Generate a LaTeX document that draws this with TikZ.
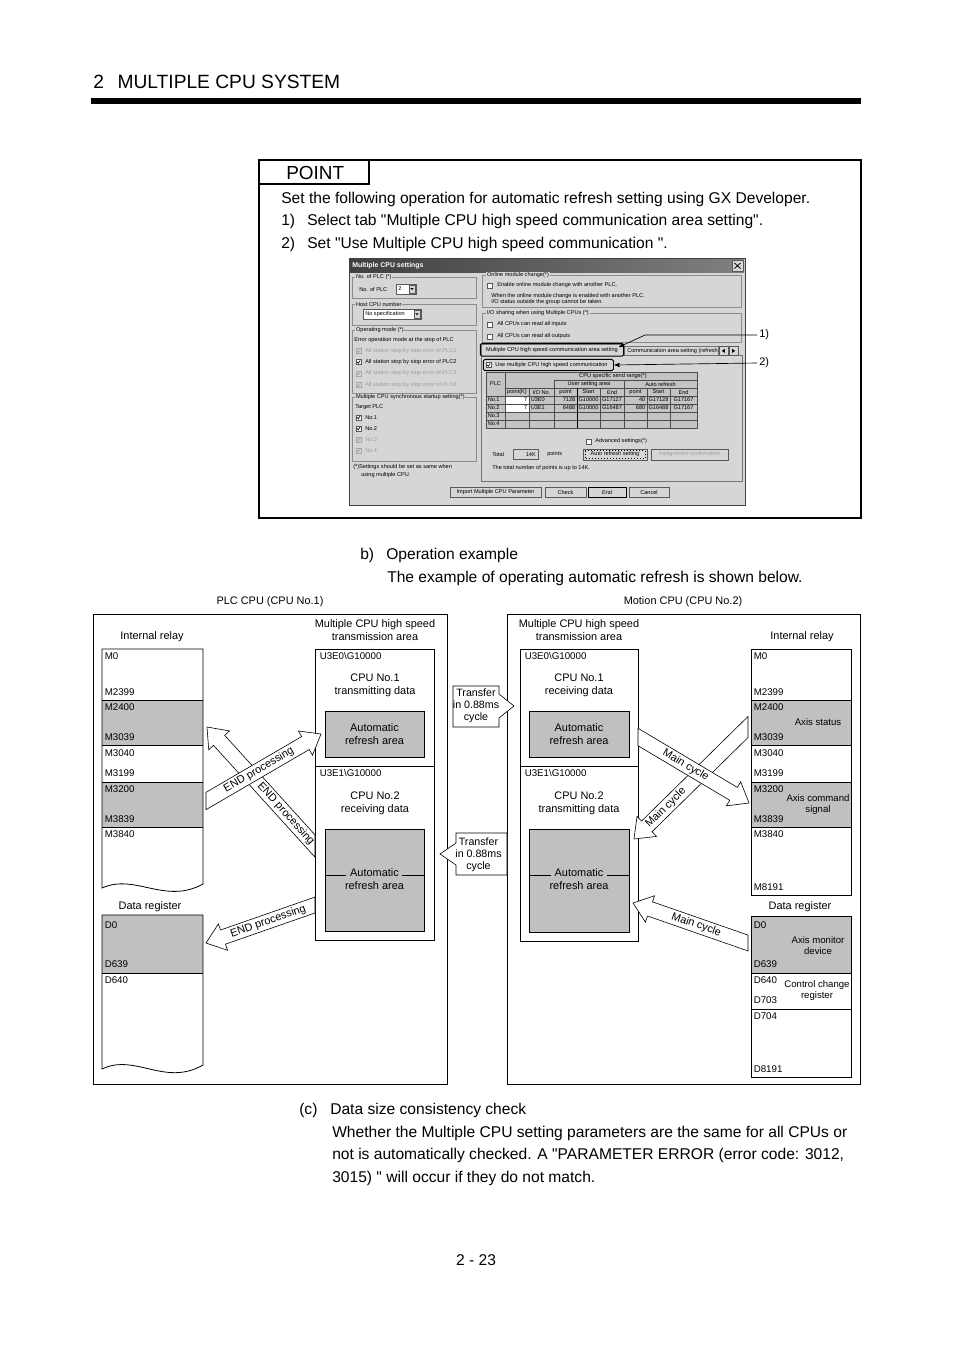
\documentclass[tikz,border=0pt]{standalone}
\usepackage{fontspec}
\setmainfont{Liberation Sans}
\usetikzlibrary{arrows}

\definecolor{dlgbg}{HTML}{D6D6D6}
\definecolor{dlgline}{HTML}{8C8C8C}
\definecolor{tablebg}{HTML}{C4C4C4}
\definecolor{refreshgray}{HTML}{C0C0C0}

% hollow block arrow: name, tail x, tail y (vertical cut), tip x, tip y
\newcommand{\hollowarrow}[5]{%
  \pgfmathsetmacro{\haLen}{veclen(#4-#2,#5-#3)}%
  \pgfmathsetmacro{\haUx}{(#4-#2)/\haLen}%
  \pgfmathsetmacro{\haUy}{(#5-#3)/\haLen}%
  \pgfmathsetmacro{\haBx}{#4-18*\haUx}%
  \pgfmathsetmacro{\haBy}{#5-18*\haUy}%
  \coordinate (#1 tail) at (#2,#3);
  \coordinate (#1 tip) at (#4,#5);
  \draw[hollow] (#2,{#3+7.5/(\haUx)}) -- ({\haBx-7.5*(\haUy)},{\haBy+7.5*(\haUx)})
    -- ({\haBx-14*(\haUy)},{\haBy+14*(\haUx)}) -- (#1 tip)
    -- ({\haBx+14*(\haUy)},{\haBy-14*(\haUx)}) -- ({\haBx+7.5*(\haUy)},{\haBy-7.5*(\haUx)})
    -- (#2,{#3-7.5/(\haUx)}) -- cycle;}
\newcommand{\chkbox}[3][]{\draw[chk frame,#1] (#2,{#3-2.6}) rectangle ({#2+5.2},{#3+2.6});}
\newcommand{\chktick}[3][black]{\draw[line width=0.45pt,#1] ({#2+1.1},{#3-0.1}) -- ({#2+2.3},{#3+1.3}) -- ({#2+4.2},{#3-1.6});}
\newcommand{\dlgcombo}[6]{%
  \draw[dlg field] (#2,#3) rectangle (#4,#5);
  \node[dlg text] (#1) at ({#2+2},{(#3+#5)/2}) {#6};
  \draw[btn face] ({#4-7},{#3+1}) rectangle ({#4-1},{#5-1});
  \fill ({#4-5.6},{(#3+#5)/2-0.8}) -- ++(3.2,0) -- ++(-1.6,1.8) -- cycle;}
\newcommand{\dq}{\textquotedbl}

\begin{document}
\begin{tikzpicture}[x=0.75pt,y=-0.75pt,
    header text/.style={font=\fontsize{14.4}{17}\selectfont, anchor=base west, inner sep=0pt},
    page text/.style={font=\fontsize{11.7}{14}\selectfont, anchor=base west, inner sep=0pt},
    point text/.style={font=\fontsize{14.2}{17}\selectfont, anchor=base west, inner sep=0pt},
    cpu title/.style={font=\fontsize{8.2}{9.75}\selectfont, align=center, inner sep=0pt},
    dev label/.style={font=\fontsize{7.3}{8.5}\selectfont, anchor=west, inner sep=0pt},
    note label/.style={font=\fontsize{7.2}{8.3}\selectfont, align=center, inner sep=0pt},
    transfer text/.style={font=\fontsize{8}{9}\selectfont, align=center, inner sep=0pt},
    arrow text/.style={font=\fontsize{8.2}{9.8}\selectfont, inner sep=0pt},
    outer box/.style={draw, line width=0.6pt},
    area box/.style={draw, line width=0.6pt},
    refresh box/.style={draw, fill=refreshgray, line width=0.6pt},
    hollow/.style={draw, fill=white, line width=0.45pt, line join=miter},
    dlg text/.style={font=\fontsize{4.2}{5}\selectfont, anchor=west, inner sep=0pt},
    dlg title/.style={font=\fontsize{5.2}{6}\selectfont\bfseries, text=white, anchor=west, inner sep=0pt},
    cell/.style={dlg text, anchor=center},
    greyed/.style={text=black!38},
    group frame/.style={draw=dlgline, line width=0.35pt},
    group label/.style={dlg text, fill=dlgbg, inner xsep=0.6pt},
    dlg field/.style={draw=black!65, fill=white, line width=0.3pt},
    btn face/.style={draw=black!65, fill=dlgbg, line width=0.35pt},
    chk frame/.style={draw=black!65, fill=white, line width=0.3pt},
    mark box/.style={draw, line width=0.7pt, rounded corners=1.2pt}]

  \useasboundingbox (0,0) rectangle (954,1350);
  \fill[white] (0,0) rectangle (954,1350);

  % page header
  \node[header text] (title) at (93,88) {2\hspace{0.71em}MULTIPLE CPU SYSTEM};
  \draw[line width=4.5pt] (91,101) -- (861,101);

  % point frame
  \draw[line width=1.5pt] (259,160) rectangle (861,518);
  \draw[line width=1.1pt] (259,160) rectangle (369,184);
  \node[point text] (point) at (286,179) {POINT};
  \node[page text] (p1) at (281,203) {Set the following operation for automatic refresh setting using GX Developer.};
  \node[page text] (p2n) at (281,225) {1)};
  \node[page text] (p2) at (307,225) {Select tab \dq Multiple CPU high speed communication area setting\dq.};
  \node[page text] (p3n) at (281,248) {2)};
  \node[page text] (p3) at (307,248) {Set \dq Use Multiple CPU high speed communication \dq.};

  % dialog
  \draw[draw=black!75, fill=dlgbg, line width=0.6pt] (349,258) rectangle (745,505);
  \shade[left color=black!75, right color=black!50] (350,259) rectangle (744,272.5);
  \node[dlg title] (dlg name) at (352,265.8) {Multiple CPU settings};
  \draw[btn face] (732,260.5) rectangle (743,271);
  \draw[line width=0.6pt] (734.5,263) -- (740.5,268.5) (740.5,263) -- (734.5,268.5);

  \draw[group frame] (352,277) rectangle (476,298);
  \node[group label] (g plc) at (355,277) {No. of PLC (*)};
  \node[dlg text] (n plc) at (359,289) {No. of PLC};
  \dlgcombo{c plc}{396}{284}{416}{294}{2}
  \draw[group frame] (352,304) rectangle (476,325);
  \node[group label] (g host) at (355,304) {Host CPU number};
  \dlgcombo{c host}{363}{309}{421}{319.5}{No specification}
  \draw[group frame] (352,330) rectangle (476,393);
  \node[group label] (g mode) at (355,330) {Operating mode (*)};
  \node[dlg text] (n err) at (354,340.5) {Error operation mode at the stop of PLC};
  \foreach \k/\yy in {1/351,3/373.5,4/385} {
    \chkbox[draw=black!35, fill=dlgbg]{356}{\yy}
    \chktick[black!38]{356}{\yy}
    \node[dlg text, greyed] (n stop\k) at (365,\yy) {All station stop by stop error of PLC\k};
  }
  \chkbox{356}{362}
  \chktick{356}{362}
  \node[dlg text] (n stop2) at (365,362) {All station stop by stop error of PLC2};
  \draw[group frame] (352,397) rectangle (476,461);
  \node[group label] (g sync) at (355,397) {Multiple CPU synchronous startup setting(*)};
  \node[dlg text] (n target) at (355,407) {Target PLC};
  \foreach \k/\yy in {1/417.5,2/428.5} {
    \chkbox{356}{\yy}
    \chktick{356}{\yy}
    \node[dlg text] (n sync\k) at (365,\yy) {No.\k};
  }
  \foreach \k/\yy in {3/439.5,4/450.5} {
    \chkbox[draw=black!35, fill=dlgbg]{356}{\yy}
    \chktick[black!38]{356}{\yy}
    \node[dlg text, greyed] (n sync\k) at (365,\yy) {No.\k};
  }
  \node[dlg text] (n note1) at (353,467.5) {(*)Settings should be set as same when};
  \node[dlg text] (n note2) at (361,475) {using multiple CPU.};

  \draw[group frame] (482,275) rectangle (741,307);
  \node[group label] (g online) at (486,275) {Online module change(*)};
  \chkbox{487}{285.5}
  \node[dlg text] (n online) at (497,285.5) {Enable online module change with another PLC.};
  \node[dlg text] (n when) at (491,296) {When the online module change is enabled  with another PLC.};
  \node[dlg text] (n status) at (491,301.8) {I/O status outside the group cannot be taken.};
  \draw[group frame] (482,313) rectangle (741,342);
  \node[group label] (g share) at (486,313) {I/O sharing when using Multiple CPUs (*)};
  \chkbox{487}{324.5}
  \node[dlg text] (n inputs) at (497,324.5) {All CPUs can read all inputs};
  \chkbox{487}{336.5}
  \node[dlg text] (n outputs) at (497,336.5) {All CPUs can read all outputs};

  % tabs
  \draw[draw=black!55, fill=dlgbg, line width=0.35pt] (481,355) rectangle (742,481);
  \draw[draw=black!55, fill=dlgbg, line width=0.35pt] (624,355) -- (624,346.5) -- (718,346.5) -- (718,355);
  \node[dlg text] (tab two) at (627,351) {Communication area setting (refresh s};
  \draw[btn face] (719,346.5) rectangle (728,355);
  \draw[btn face] (729,346.5) rectangle (738,355);
  \fill (721.8,350.8) -- (724.8,348.8) -- (724.8,352.8) -- cycle;
  \fill (735.2,350.8) -- (732.2,348.8) -- (732.2,352.8) -- cycle;
  \fill[dlgbg] (481.3,344) rectangle (622.7,355.6);
  \draw[draw=black!55, line width=0.35pt] (481,355) -- (481,344) -- (623,344) -- (623,355);
  \node[dlg text, anchor=center] (tab one) at (552,349.8) {Multiple CPU high speed communication area setting};
  \draw[mark box] (480.3,343.3) rectangle (623.7,356.2);
  \chkbox{486}{365}
  \chktick{486}{365}
  \node[dlg text] (n use) at (495,365) {Use multiple CPU high speed communication};
  \draw[mark box] (483.3,359.4) rectangle (613.5,370.6);

  % table
  \fill[tablebg] (486,372) rectangle (697,428);
  \fill[white] (505,396) rectangle (529,412);
  \draw[draw=black!70, line width=0.3pt] (486,372) rectangle (697,428);
  \draw[draw=black!70, line width=0.3pt] (554,380) -- (697,380) (505,388) -- (697,388)
    \foreach \yy in {396,404,412,420} {(486,\yy) -- (697,\yy)}
    (505,372) -- (505,428) (554,380) -- (554,428) (624,380) -- (624,428)
    \foreach \xx in {529,600,647,670} {(\xx,388) -- (\xx,428)};
  \draw[line width=0.6pt] (577,388) -- (577,428);
  \node[cell] (t plc) at (495.5,384) {PLC};
  \node[cell] (t send) at (613,376) {CPU specific send range(*)};
  \node[cell] (t user) at (589,384) {User setting area};
  \node[cell] (t auto) at (660.5,384) {Auto refresh};
  \foreach \lab/\xx [count=\i] in {{point(K)}/517,{I/O No.}/541.5,{point}/565.5,{Start}/588.5,{End}/612,{point}/635.5,{Start}/658.5,{End}/683.5}
    \node[cell] (t h\i) at (\xx,392) {\lab};
  \foreach \k/\yy in {1/400,2/408,3/416,4/424}
    \node[dlg text] (t no\k) at (487.5,\yy) {No.\k};
  \node[dlg text, anchor=east] (r1 a) at (527.5,400) {7};
  \node[dlg text] (r1 b) at (530.5,400) {U3E0};
  \node[dlg text, anchor=east] (r1 c) at (575.5,400) {7128};
  \node[cell] (r1 d) at (588.5,400) {G10000};
  \node[cell] (r1 e) at (612,400) {G17127};
  \node[dlg text, anchor=east] (r1 f) at (645.5,400) {40};
  \node[cell] (r1 g) at (658.5,400) {G17128};
  \node[cell] (r1 h) at (683.5,400) {G17167};
  \node[dlg text, anchor=east] (r2 a) at (527.5,408) {7};
  \node[dlg text] (r2 b) at (530.5,408) {U3E1};
  \node[dlg text, anchor=east] (r2 c) at (575.5,408) {6488};
  \node[cell] (r2 d) at (588.5,408) {G10000};
  \node[cell] (r2 e) at (612,408) {G16487};
  \node[dlg text, anchor=east] (r2 f) at (645.5,408) {680};
  \node[cell] (r2 g) at (658.5,408) {G16488};
  \node[cell] (r2 h) at (683.5,408) {G17167};

  \chkbox{586}{441.5}
  \node[dlg text] (n adv) at (595,441.5) {Advanced settings(*)};
  \node[dlg text] (n total) at (492,454.5) {Total};
  \draw[dlg field, fill=dlgbg] (513,449) rectangle (538,459.5);
  \node[dlg text, anchor=east] (n 14k) at (536,454.5) {14K};
  \node[dlg text] (n points) at (547,454.5) {points};
  \draw[btn face] (583,449) rectangle (647,460);
  \draw[dotted, line width=0.25pt] (585,450.6) rectangle (645,458.4);
  \node[cell] (b auto) at (615,454.5) {Auto refresh setting};
  \draw[btn face] (651,449) rectangle (728,460);
  \node[cell, greyed] (b assign) at (689.5,454.5) {Assignment confirmation};
  \node[dlg text] (n max) at (492,468) {The total number of points is up to 14K.};
  \draw[btn face] (450,487) rectangle (541,497.5);
  \node[cell] (b import) at (495.5,492.3) {Import Multiple CPU Parameter};
  \draw[btn face] (545,487) rectangle (586,497.5);
  \node[cell] (b check) at (565.5,492.3) {Check};
  \draw[btn face, draw=black, line width=0.6pt] (588,487) rectangle (626,497.5);
  \node[cell] (b end) at (607,492.3) {End};
  \draw[btn face] (629,487) rectangle (669,497.5);
  \node[cell] (b cancel) at (649,492.3) {Cancel};

  % callouts
  \node[cpu title, anchor=west] (one) at (759,335) {1)};
  \node[cpu title, anchor=west] (two) at (759,363) {2)};
  \coordinate (one bend) at (645,335);
  \coordinate (tab mark) at (619,347);
  \coordinate (use mark) at (614.5,365);
  \draw[-stealth', line width=0.5pt] ([xshift=-1.5pt]one.west) -- (one bend) -- (tab mark);
  \draw[-stealth', line width=0.5pt] ([xshift=-1.5pt]two.west) -- (use mark);

  % operation example
  \node[page text] (bn) at (360,559) {b)};
  \node[page text] (b1) at (386,559) {Operation example};
  \node[page text] (b2) at (387,582) {The example of operating automatic refresh is shown below.};
  \node[cpu title] (plc title) at (270,602) {PLC CPU (CPU No.1)};
  \node[cpu title] (motion title) at (683,602) {Motion CPU (CPU No.2)};
  \draw[outer box] (93,614) rectangle (447,1084);
  \draw[outer box] (507,614) rectangle (860,1084);

  % PLC internal relay / data register
  \node[cpu title] (plc relay) at (152,637) {Internal relay};
  \fill[refreshgray] (102,700) rectangle (203,745) (102,782) rectangle (203,827);
  \draw[area box] (102,649) -- (102,888) .. controls (135,873) and (165,905) .. (203,884) -- (203,649) -- cycle;
  \draw[area box] (102,700) -- (203,700) (102,745) -- (203,745) (102,782) -- (203,782) (102,827) -- (203,827);
  \foreach \lab/\yy in {M0/656,M2399/692,M2400/707,M3039/737,M3040/753,M3199/773,M3200/789,M3839/819,M3840/834}
    \node[dev label] (plc \lab) at (104.5,\yy) {\lab};
  \node[cpu title] (plc data) at (150,907) {Data register};
  \fill[refreshgray] (102,915) rectangle (203,973);
  \draw[area box] (102,915) -- (102,1069) .. controls (135,1053) and (165,1087) .. (203,1065) -- (203,915) -- cycle;
  \draw[area box] (102,973) -- (203,973);
  \foreach \lab/\yy in {D0/925,D639/964,D640/980}
    \node[dev label] (plc \lab) at (104.5,\yy) {\lab};

  % PLC transmission area
  \node[cpu title] (plc area) at (375,630.5) {Multiple CPU high speed\\transmission area};
  \draw[area box] (315,649) rectangle (434,940);
  \draw[area box] (315,766) -- (434,766);
  \node[dev label] (plc u0) at (319.5,656) {U3E0\textbackslash G10000};
  \node[cpu title] (plc send) at (375,685.5) {CPU No.1\\transmitting data};
  \draw[refresh box] (325,711) rectangle (424,757);
  \node[cpu title] (plc ar1) at (374.5,734) {Automatic\\refresh area};
  \node[dev label] (plc u1) at (319.5,773) {U3E1\textbackslash G10000};
  \node[cpu title] (plc recv) at (375,803.5) {CPU No.2\\receiving data};
  \draw[refresh box] (325,829) rectangle (424,931);
  \draw[area box] (325,875) -- (346,875) (402,875) -- (424,875);
  \node[cpu title] (plc ar2) at (374.5,879.5) {Automatic\\refresh area};

  % Motion transmission area
  \node[cpu title] (mot area) at (579,630.5) {Multiple CPU high speed\\transmission area};
  \draw[area box] (520,649) rectangle (638,941);
  \draw[area box] (520,766) -- (638,766);
  \node[dev label] (mot u0) at (524.5,656) {U3E0\textbackslash G10000};
  \node[cpu title] (mot recv) at (579,685.5) {CPU No.1\\receiving data};
  \draw[refresh box] (529,711) rectangle (629,757);
  \node[cpu title] (mot ar1) at (579,734) {Automatic\\refresh area};
  \node[dev label] (mot u1) at (524.5,773) {U3E1\textbackslash G10000};
  \node[cpu title] (mot send) at (579,803.5) {CPU No.2\\transmitting data};
  \draw[refresh box] (529,829) rectangle (629,932);
  \draw[area box] (529,875) -- (551,875) (607,875) -- (629,875);
  \node[cpu title] (mot ar2) at (579,879.5) {Automatic\\refresh area};

  % Motion internal relay / data register
  \node[cpu title] (mot relay) at (802,637) {Internal relay};
  \fill[refreshgray] (751,700) rectangle (851,745) (751,782) rectangle (851,827);
  \draw[area box] (751,649) rectangle (851,895);
  \draw[area box] (751,700) -- (851,700) (751,745) -- (851,745) (751,782) -- (851,782) (751,827) -- (851,827);
  \foreach \lab/\yy in {M0/656,M2399/692,M2400/707,M3039/737,M3040/753,M3199/773,M3200/789,M3839/819,M3840/834,M8191/887}
    \node[dev label] (mot \lab) at (753.5,\yy) {\lab};
  \node[note label] (axis status) at (818,722) {Axis status};
  \node[note label] (axis cmd) at (818,804.5) {Axis command\\signal};
  \node[cpu title] (mot data) at (800,907) {Data register};
  \fill[refreshgray] (751,916) rectangle (851,973);
  \draw[area box] (751,916) rectangle (851,1077);
  \draw[area box] (751,973) -- (851,973) (751,1009) -- (851,1009);
  \foreach \lab/\yy in {D0/925,D639/964,D640/980,D703/1000,D704/1016,D8191/1069}
    \node[dev label] (mot \lab) at (753.5,\yy) {\lab};
  \node[note label] (axis mon) at (818,945.5) {Axis monitor\\device};
  \node[note label] (ctrl chg) at (817,990.5) {Control change\\register};

  % transfer arrows
  \draw[hollow] (453,686) -- (499,686) -- (499,694) -- (514,706) -- (499,718) -- (499,727) -- (453,727) -- cycle;
  \node[transfer text] (xfer1) at (476,706) {Transfer\\in 0.88ms\\cycle};
  \draw[hollow] (507,833) -- (456,833) -- (456,843) -- (440,854) -- (456,865) -- (456,875) -- (507,875) -- cycle;
  \node[transfer text] (xfer2) at (478.5,854.5) {Transfer\\in 0.88ms\\cycle};

  % END processing arrows
  \hollowarrow{A}{315}{846}{207}{727}
  \hollowarrow{B}{206}{801}{321}{734}
  \hollowarrow{C}{315}{905}{206}{943}
  \path (A tail) -- node[arrow text, sloped, pos=0.27] (A text) {END processing} (A tip);
  \path (B tail) -- node[arrow text, sloped, pos=0.46] (B text) {END processing} (B tip);
  \path (C tail) -- node[arrow text, sloped, pos=0.43] (C text) {END processing} (C tip);

  % Main cycle arrows
  \hollowarrow{E}{748}{727}{634}{839}
  \hollowarrow{D}{638}{737}{749}{803}
  \hollowarrow{F}{748}{943}{633}{903}
  \path (D tail) -- node[arrow text, sloped, pos=0.43] (D text) {Main cycle} (D tip);
  \path (E tail) -- node[arrow text, sloped, pos=0.72] (E text) {Main cycle} (E tip);
  \path (F tail) -- node[arrow text, sloped, pos=0.45] (F text) {Main cycle} (F tip);

  % data size check
  \node[page text] (cn) at (299,1114) {(c)};
  \node[page text] (c1) at (330,1114) {Data size consistency check};
  \node[page text] (c2) at (332,1137) {Whether the Multiple CPU setting parameters are the same for all CPUs or};
  \node[page text] (c3) at (332,1159) {not is automatically checked. A \dq PARAMETER ERROR (error code: 3012,};
  \node[page text] (c4) at (332,1182) {3015) \dq\ will occur if they do not match.};
  \node[page text, anchor=base] (page no) at (476,1265) {2 - 23};
\end{tikzpicture}
\end{document}
